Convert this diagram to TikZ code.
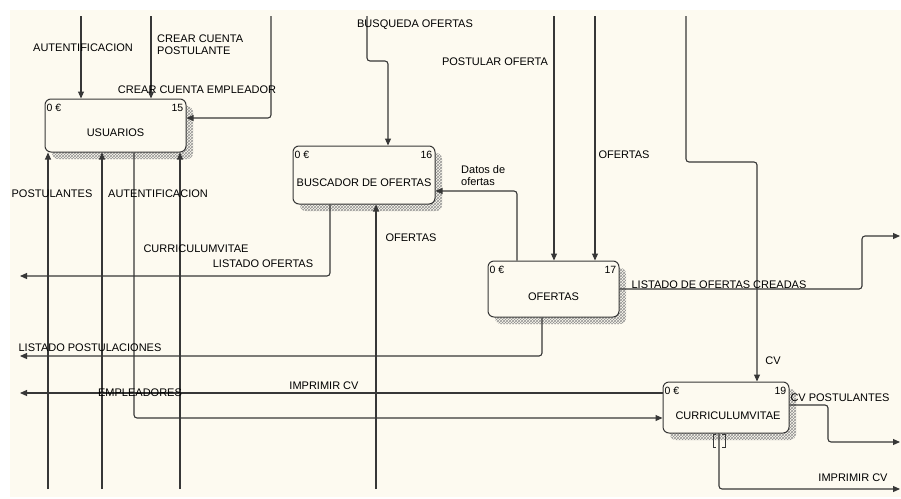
\documentclass[tikz,border=0pt]{standalone}
\usepackage{fontspec}
\setmainfont{Liberation Sans}
\usetikzlibrary{arrows.meta}
\usetikzlibrary{patterns}
\usetikzlibrary{shadows}
\definecolor{papel}{RGB}{253,250,240}
\definecolor{trazo}{RGB}{55,55,55}

\begin{document}
\begin{tikzpicture}[x=1pt,y=-1pt,
    proc/.style={draw=trazo,line width=1pt,rounded corners=6pt,fill=papel,inner sep=0pt,
      general shadow={shadow xshift=7pt,shadow yshift=-7pt,pattern=crosshatch,pattern color=gray!85}},
    flujo/.style={draw=trazo,line width=1.1pt,rounded corners=3pt},
    flecha/.style={flujo,-{Triangle[length=7pt,width=6pt]}},
    etq/.style={font=\fontsize{11}{12}\selectfont,inner sep=0pt},
    num/.style={font=\fontsize{10.5}{11}\selectfont,inner sep=0pt}]
		\useasboundingbox (0,0) rectangle (901,498);
		\fill[white] (0,0) rectangle (901,498);
		\fill[papel] (10,10) rectangle (901,497);

		% cajas
		\node[proc,minimum width=141pt,minimum height=53pt] (U) at (115.5,125.5) {};
		\node[etq] (tU) at (115.5,133) {USUARIOS};
		\node[num,anchor=west] (cU) at ([xshift=2pt,yshift=-9pt]U.north west) {0 €};
		\node[num,anchor=east] (nU) at ([xshift=-3pt,yshift=-9pt]U.north east) {15};

		\node[proc,minimum width=142pt,minimum height=58pt] (B) at (364,175) {};
		\node[etq] (tB) at (364,183) {BUSCADOR DE OFERTAS};
		\node[num,anchor=west] (cB) at ([xshift=2pt,yshift=-9pt]B.north west) {0 €};
		\node[num,anchor=east] (nB) at ([xshift=-3pt,yshift=-9pt]B.north east) {16};

		\node[proc,minimum width=131pt,minimum height=56pt] (O) at (553.5,289) {};
		\node[etq] (tO) at (553.5,297) {OFERTAS};
		\node[num,anchor=west] (cO) at ([xshift=2pt,yshift=-9pt]O.north west) {0 €};
		\node[num,anchor=east] (nO) at ([xshift=-3pt,yshift=-9pt]O.north east) {17};

		\node[proc,minimum width=126pt,minimum height=51pt] (CV) at (726,407.5) {};
		\node[etq] (tCV) at (728,416) {CURRICULUMVITAE};
		\node[num,anchor=west] (cCV) at ([xshift=2pt,yshift=-9pt]CV.north west) {0 €};
		\node[num,anchor=east] (nCV) at ([xshift=-3pt,yshift=-9pt]CV.north east) {19};

		% entradas desde arriba
		\coordinate (e1) at (81,16);
		\draw[flecha] (e1) -- (e1 |- U.north);
		\coordinate (e2) at (151,16);
		\draw[flecha] (e2) -- (e2 |- U.north);
		\coordinate (e3) at (271,16);
		\coordinate (k3) at (271,118);
		\draw[flecha] (e3) -- (k3) -- (k3 -| U.east);

		\coordinate (e4) at (367,16);
		\coordinate (k4) at (388,61);
		\draw[flecha] (e4) -- (e4 |- k4) -- (k4) -- (k4 |- B.north);

		\coordinate (e5) at (554,16);
		\draw[flecha] (e5) -- (e5 |- O.north);
		\coordinate (e6) at (595,16);
		\draw[flecha] (e6) -- (e6 |- O.north);

		\coordinate (e7) at (686,16);
		\coordinate (k7) at (757,162);
		\draw[flecha] (e7) -- (e7 |- k7) -- (k7) -- (k7 |- CV.north);

		% entre cajas
		\coordinate (k8) at (517,191);
		\draw[flecha] (k8 |- O.north) -- (k8) -- (k8 -| B.east);

		\coordinate (k14) at (134,418);
		\draw[flecha] (k14 |- U.south) -- (k14) -- (k14 -| CV.west);

		% salidas
		\coordinate (k9) at (330,276);
		\coordinate (s9) at (20,276);
		\draw[flecha] (k9 |- B.south) -- (k9) -- (s9);

		\coordinate (k11) at (862,289);
		\coordinate (s11) at (900,236);
		\draw[flecha] (O.east) -- (k11) -- (k11 |- s11) -- (s11);

		\coordinate (k12) at (542,356);
		\coordinate (s12) at (20,356);
		\draw[flecha] (k12 |- O.south) -- (k12) -- (s12);

		\coordinate (s13) at (20,393);
		\draw[flecha] (s13 -| CV.west) -- (s13);

		\coordinate (k15) at (828,405);
		\coordinate (s15) at (900,442);
		\draw[flecha] (k15 -| CV.east) -- (k15) -- (k15 |- s15) -- (s15);

		\coordinate (k16) at (719,489);
		\coordinate (s16) at (900,489);
		\draw[flecha] (k16 |- CV.south) -- (k16) -- (s16);
		\draw[trazo,line width=0.8pt] (716,434) -- (713,434) -- (713,447) -- (716,447);
		\draw[trazo,line width=0.8pt] (722,434) -- (725,434) -- (725,447) -- (722,447);

		% entradas desde abajo
		\coordinate (p1) at (48,489);
		\draw[flecha] (p1) -- (p1 |- U.south);
		\coordinate (p2) at (102,489);
		\draw[flecha] (p2) -- (p2 |- U.south);
		\coordinate (p3) at (180,489);
		\draw[flecha] (p3) -- (p3 |- U.south);
		\coordinate (p4) at (376,489);
		\draw[flecha] (p4) -- (p4 |- B.south);

		% etiquetas
		\node[etq] (lAut) at (83,48) {AUTENTIFICACION};
		\node[etq,anchor=north west,align=left] (lCrearP) at (157,35) {CREAR CUENTA\\POSTULANTE};
		\node[etq] (lCrearE) at (197,90) {CREAR CUENTA EMPLEADOR};
		\node[etq] (lBusq) at (415,25) {BUSQUEDA OFERTAS};
		\node[etq] (lPost) at (495,62) {POSTULAR OFERTA};
		\node[etq] (lOfeA) at (624,155) {OFERTAS};
		\node[etq,anchor=north west,align=left] (lDatos) at (461,165) {Datos de\\ofertas};
		\node[etq] (lPostulantes) at (52,194) {POSTULANTES};
		\node[etq] (lAut2) at (158,194) {AUTENTIFICACION};
		\node[etq] (lOfeB) at (411,238) {OFERTAS};
		\node[etq] (lCurr) at (196,249) {CURRICULUMVITAE};
		\node[etq] (lListOf) at (263,264) {LISTADO OFERTAS};
		\node[etq] (lCreadas) at (719,285) {LISTADO DE OFERTAS CREADAS};
		\node[etq] (lListPost) at (90,348) {LISTADO POSTULACIONES};
		\node[etq] (lCV) at (773,361) {CV};
		\node[etq] (lImp1) at (324,386) {IMPRIMIR CV};
		\node[etq] (lEmp) at (140,393) {EMPLEADORES};
		\node[etq] (lCVPost) at (840,398) {CV POSTULANTES};
		\node[etq] (lImp2) at (853,478) {IMPRIMIR CV};
    \end{tikzpicture}
\end{document}
